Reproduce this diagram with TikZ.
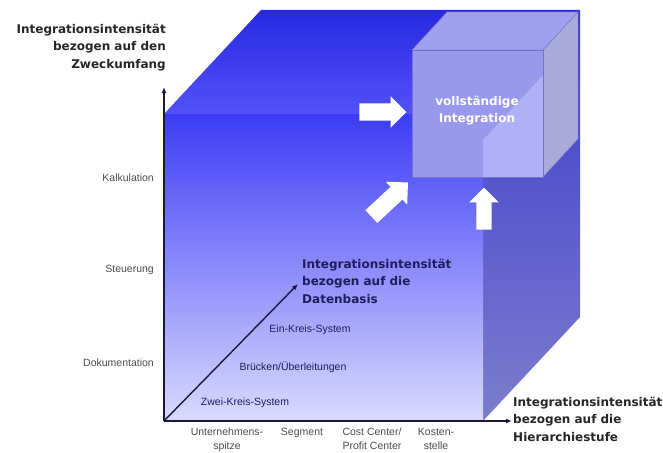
\documentclass[tikz,border=0pt]{standalone}
\usepackage{fontspec}
\setmainfont{DejaVu Sans}
\newfontfamily\arialfont{Liberation Sans}
\usetikzlibrary{arrows.meta,shapes.arrows}

\definecolor{axisnavy}{RGB}{25,25,60}
\definecolor{labelnavy}{RGB}{30,30,95}
\definecolor{smallfront}{RGB}{152,152,236}
\definecolor{smalllight}{RGB}{176,176,246}
\definecolor{smalltop}{RGB}{160,160,240}
\definecolor{smallside}{RGB}{170,170,218}
\definecolor{smalledge}{RGB}{115,115,200}

\tikzset{
  axisarrow/.style={draw=axisnavy, line width=1.4pt, -{Latex[length=6pt,width=5pt]}},
  axislabel/.style={font=\bfseries\fontsize{12}{17.5}\selectfont, text=black!85, inner sep=0pt},
  ticklabel/.style={font=\arialfont\fontsize{10.5}{14}\selectfont, text=black!70, inner sep=0pt},
  whitearrow/.style={single arrow, fill=white, draw=none, inner xsep=0pt, inner ysep=8.5pt,
    single arrow head extend=7pt}
}

\begin{document}
\begin{tikzpicture}[x=1pt,y=-1pt]
  \useasboundingbox (0,0) rectangle (663,452);

  % The big cube
  \shade[top color={rgb,255:red,40;green,40;blue,225}, bottom color={rgb,255:red,82;green,82;blue,250}]
    (164,114) -- (261,10) -- (580,10) -- (483,114) -- cycle;
  \shade[top color={rgb,255:red,58;green,58;blue,205}, bottom color={rgb,255:red,125;green,125;blue,205}]
    (483,114) -- (580,10) -- (580,317) -- (483,421) -- cycle;
  \shade[top color={rgb,255:red,60;green,60;blue,246}, bottom color={rgb,255:red,218;green,218;blue,255}]
    (164,114) rectangle (483,421);

  % The small cube
  \fill[smalltop, draw=smalledge] (412,50) -- (447,12) -- (578,12) -- (543,50) -- cycle;
  \fill[smallside, draw=smalledge] (543,50) -- (578,12) -- (578,139) -- (543,177) -- cycle;
  \fill[smallfront, draw=smalledge] (412,50) rectangle (543,177);
  \fill[smalllight] (483,177) -- (483,140) -- (543,75) -- (543,177) -- cycle;
  \draw[smalledge] (412,50) rectangle (543,177);
  \node[font=\bfseries\fontsize{12}{17}\selectfont, text=white, align=center] (voll) at (477,111)
    {vollständige\\Integration};

  % The white arrows
  \node[whitearrow, minimum height=47pt] (arrright) at (378.5,112) {};
  \node[whitearrow, minimum height=50pt, rotate=43] (arrdiag) at (386.5,202.5) {};
  \node[whitearrow, minimum height=42pt, inner ysep=7.5pt, rotate=90] (arrup) at (484,212.5) {};

  % The axes
  \coordinate (O) at (164,421);
  \coordinate (zweck) at (164,87);
  \coordinate (hier) at (512,421);
  \coordinate (daten) at (298,284);
  \draw[axisarrow] (O) -- (zweck);
  \draw[axisarrow] (O) -- (hier);
  \draw[axisarrow] (O) -- (daten);

  % The axis titles
  \node[axislabel, align=right, anchor=north east] (zwecklabel) at (166,24)
    {Integrationsintensität\\bezogen auf den\\Zweckumfang};
  \node[axislabel, align=left, anchor=north west, text=labelnavy] (datenlabel) at (302,259)
    {Integrationsintensität\\bezogen auf die\\Datenbasis};
  \node[axislabel, align=left, anchor=north west] (hierlabel) at (513,397)
    {Integrationsintensität\\bezogen auf die\\Hierarchiestufe};

  % Purpose levels
  \node[ticklabel, anchor=east] (kalk) at (154,178) {Kalkulation};
  \node[ticklabel, anchor=east] (steu) at (154,270) {Steuerung};
  \node[ticklabel, anchor=east] (doku) at (154,363) {Dokumentation};

  % Data base levels
  \node[ticklabel, text=labelnavy] (zwei) at (245,403) {Zwei-Kreis-System};
  \node[ticklabel, text=labelnavy] (bruecke) at (293,367) {Brücken/Überleitungen};
  \node[ticklabel, text=labelnavy] (ein) at (310,330) {Ein-Kreis-System};

  % Hierarchy levels
  \node[ticklabel, align=center, anchor=north] (spitze) at (227,428) {Unternehmens-\\spitze};
  \node[ticklabel, align=center, anchor=north] (segm) at (302,428) {Segment};
  \node[ticklabel, align=center, anchor=north] (cost) at (372,428) {Cost Center/\\Profit Center};
  \node[ticklabel, align=center, anchor=north] (kost) at (436,428) {Kosten-\\stelle};
\end{tikzpicture}
\end{document}
